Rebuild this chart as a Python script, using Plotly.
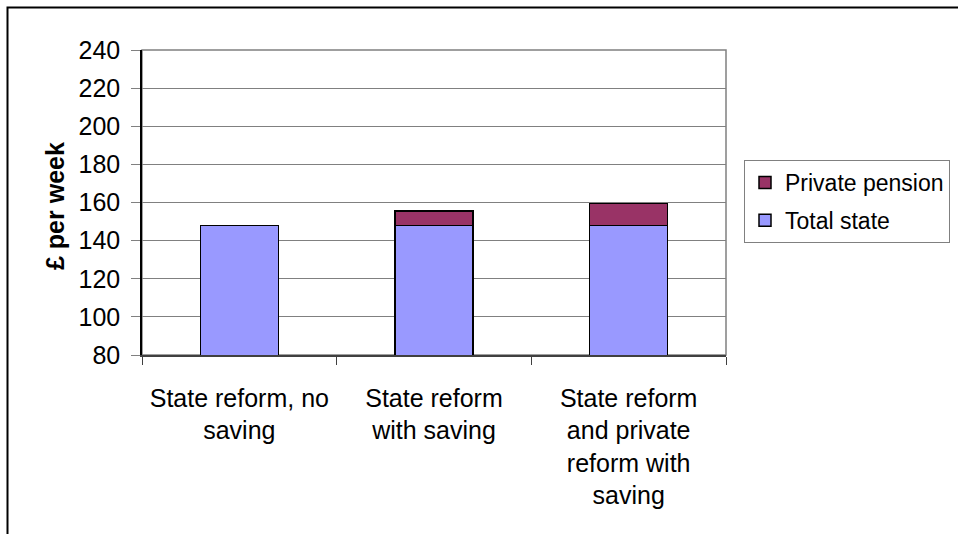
import plotly.graph_objects as go

categories = ["State reform, no<br>saving", "State reform<br>with saving",
              "State reform<br>and private<br>reform with<br>saving"]
total_state = [148, 148, 148]
private_pension = [0, 7.5, 11.5]
y_ticks = [80, 100, 120, 140, 160, 180, 200, 220, 240]

FONT = "Liberation Sans, Arial, sans-serif"
FS = 25
W, H = 958, 534
L, R, T, B = 142, 232, 50, 179
pw = W - L - R
ph = H - T - B

def px_x(p):
    return (p - L) / pw

def px_y(p):
    return (H - B - p) / ph

fig = go.Figure()
fig.add_trace(go.Bar(x=categories, y=total_state, name="Total state",
                     marker=dict(color="#9999FF", line=dict(color="black", width=1.5)),
                     width=0.4, legendrank=2, legendgroup="b"))
fig.add_trace(go.Bar(x=categories, y=private_pension, name="Private pension",
                     marker=dict(color="#993366", line=dict(color="black", width=1.5)),
                     width=0.4, legendrank=1, legendgroup="a"))

fig.update_layout(
    width=W, height=H,
    margin=dict(l=L, r=R, t=T, b=B, autoexpand=False),
    barmode="stack",
    plot_bgcolor="white", paper_bgcolor="white",
    font=dict(family=FONT, size=FS, color="black"),
    showlegend=True,
    legend=dict(x=px_x(744), y=px_y(160), xanchor="left", yanchor="top",
                bordercolor="#808080", borderwidth=1, traceorder="grouped",
                tracegroupgap=5, itemwidth=30, font=dict(size=23), bgcolor="white"),
    xaxis=dict(showline=True, linecolor="#404040", linewidth=1.5,
               ticks="outside", tickson="boundaries", ticklen=8, tickcolor="#404040",
               showgrid=False, tickfont=dict(size=FS), fixedrange=True,
               ticklabelstandoff=20),
    yaxis=dict(range=[80, 240], tickvals=y_ticks, showline=True, linecolor="black",
               linewidth=1.5, ticks="outside", ticklen=9, tickcolor="#808080",
               showgrid=True, gridcolor="#808080", gridwidth=1,
               tickfont=dict(size=FS), ticklabelstandoff=6, zeroline=False),
    shapes=[
        dict(type="rect", xref="paper", yref="paper", x0=0, x1=1, y0=0, y1=1,
             line=dict(color="#808080", width=1.5), layer="below"),
        dict(type="rect", xref="paper", yref="paper", x0=px_x(7.5), x1=px_x(962),
             y0=px_y(7.5), y1=px_y(560), line=dict(color="black", width=2)),
    ],
    annotations=[
        dict(text="<b>£ per week</b>", xref="paper", yref="paper",
             x=px_x(55), y=px_y(206), textangle=-90, showarrow=False,
             font=dict(size=FS), xanchor="center", yanchor="middle"),
    ],
)

fig.write_html("out.html")
